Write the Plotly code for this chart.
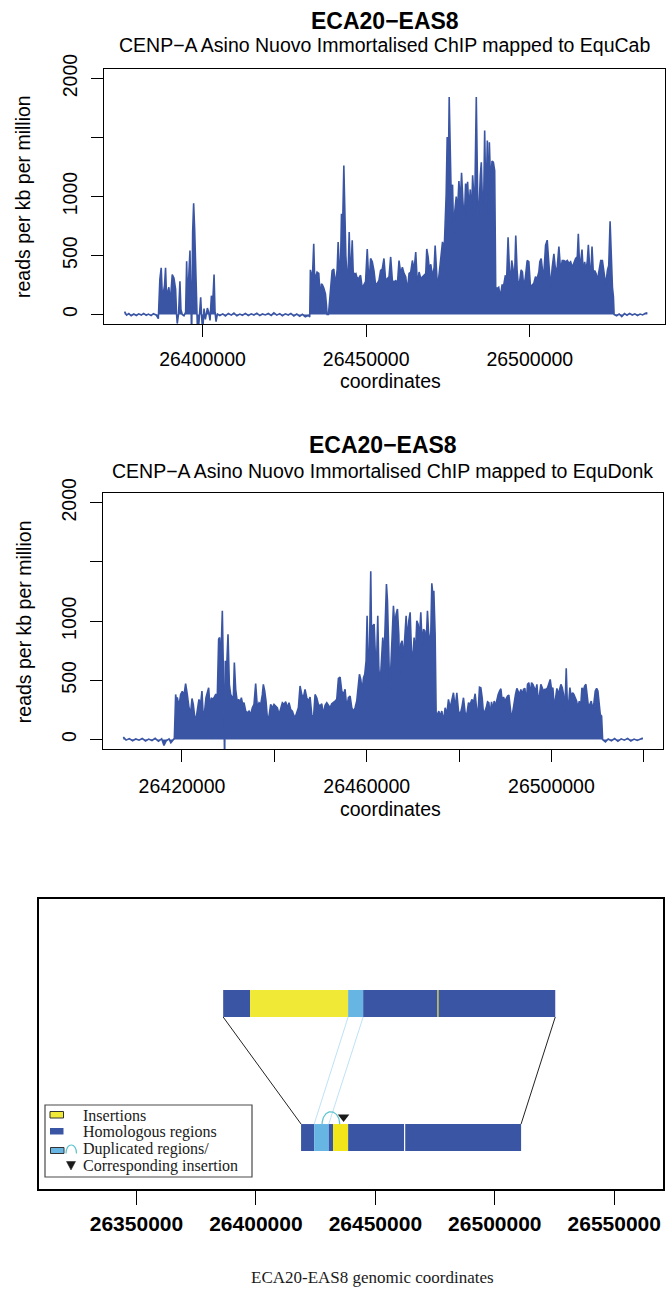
import numpy as np
import plotly.graph_objects as go

# ---------------------------------------------------------------------------
# CENP-A ChIP-seq signal (reads per kb per million) along ECA20-EAS8.
# Positions are genomic coordinates in kb.
# ---------------------------------------------------------------------------

# --- mapped to EquCab ---
cab_flank_l_kb = [26376.2, 26376.8, 26377.5, 26378.2, 26379.0, 26379.8, 26380.5, 26381.3,
                  26382.0, 26382.8, 26383.5, 26384.3, 26385.0, 26385.8, 26386.5]
cab_flank_l_val = [25, -5, 8, -10, 5, -8, 6, -4, 10, -6, 4, -9, 7, -3, -35]

cab_cluster_kb = [26386.97, 26387.38, 26387.69, 26387.99, 26388.40, 26388.71, 26389.01, 26389.42, 26389.73, 26390.14,
                  26390.55, 26390.75, 26391.26, 26391.77, 26392.08, 26392.28, 26392.69, 26393.10, 26393.41, 26393.82,
                  26394.33, 26394.84, 26395.15, 26395.45, 26395.76, 26396.17, 26396.47, 26396.68, 26396.99, 26397.29,
                  26397.60, 26397.91, 26398.21, 26398.52, 26398.93, 26399.44, 26399.74, 26400.05, 26400.46, 26400.87,
                  26401.48, 26401.89, 26402.30, 26402.71, 26403.12, 26403.53, 26403.83, 26404.14, 26404.55]
cab_cluster_val = [300, 396, 180, 175, 250, 396, 150, 200, 231, 100,
                   280, 339, 310, 215, 0, -76, 10, 282, 40, 0,
                   -10, 20, 452, 100, 300, 542, 100, -200, 700, 943,
                   720, 430, 50, -200, -60, 147, -20, -150, 50, -40,
                   55, 20, -50, 160, 100, 339, 20, -60, 5]

cab_gap_kb = [26405.3, 26406.2, 26407.0, 26407.9, 26408.8, 26409.6, 26410.5, 26411.4, 26412.2, 26413.1,
              26414.0, 26414.9, 26415.7, 26416.6, 26417.5, 26418.3, 26419.2, 26420.1, 26421.0, 26421.8,
              26422.7, 26423.6, 26424.4, 26425.3, 26426.2, 26427.0, 26427.9, 26428.8, 26429.7, 26430.5,
              26431.4, 26432.3, 26432.76]
cab_gap_val = [-8, 6, -12, 9, -5, 12, -10, 4, -6, 10,
               -8, 6, -4, 12, -9, 5, -3, 9, -7, 14,
               -5, 8, -10, 6, -4, 10, -12, 4, -15, 2,
               -20, -8, -20]

cab_core_kb = [26432.96, 26433.27, 26433.57, 26433.98, 26434.29, 26434.60, 26435.00, 26435.52, 26435.82, 26436.03,
               26436.33, 26436.64, 26437.05, 26437.56, 26437.87, 26438.07, 26438.48, 26438.79, 26439.09, 26439.60,
               26440.11, 26440.62, 26441.14, 26441.44, 26441.85, 26442.16, 26442.46, 26442.87, 26443.18, 26443.49,
               26443.79, 26444.10, 26444.51, 26444.82, 26445.12, 26445.43, 26445.74, 26446.04, 26446.45, 26446.86,
               26447.27, 26447.78, 26448.29, 26448.80, 26449.31, 26449.82, 26450.33, 26450.85, 26451.36, 26451.87,
               26452.38, 26452.89, 26453.40, 26453.91, 26454.42, 26454.93, 26455.44, 26455.95, 26456.47, 26456.98,
               26457.49, 26458.00, 26458.51, 26459.02, 26459.53, 26460.04, 26460.55, 26461.06, 26461.57, 26462.08,
               26462.60, 26463.11, 26463.62, 26464.13, 26464.64, 26465.15, 26465.66, 26466.17, 26466.68, 26467.19,
               26467.70, 26468.21, 26468.52, 26468.93, 26469.34, 26469.75, 26470.26, 26470.77, 26471.08, 26471.49,
               26471.80, 26472.31, 26472.82, 26473.33, 26473.84, 26474.15, 26474.45, 26474.76, 26475.07, 26475.37,
               26475.68, 26475.99, 26476.40, 26476.70, 26477.11, 26477.52, 26477.93, 26478.34, 26478.75, 26479.15,
               26479.56, 26479.97, 26480.38, 26480.69, 26481.00, 26481.40, 26481.81, 26482.22, 26482.53, 26482.83,
               26483.24, 26483.65]
cab_core_val = [379, 340, 300, 599, 280, 322, 360, 348, 200, 120,
                260, 250, 225, 175, 80, 0, 0, 100, 180, 373,
                386, 250, 380, 615, 360, 400, 853, 825, 1263, 785,
                500, 348, 373, 700, 380, 420, 630, 360, 340, 348,
                305, 310, 333, 225, 250, 280, 556, 250, 475, 447,
                373, 250, 265, 290, 373, 386, 475, 290, 305, 320,
                488, 290, 270, 290, 250, 458, 348, 400, 348, 320,
                200, 348, 360, 458, 373, 530, 250, 360, 305, 320,
                333, 348, 556, 488, 373, 426, 320, 400, 585, 320,
                225, 348, 488, 615, 545, 780, 1020, 1503, 1130, 1842,
                1330, 990, 1100, 690, 885, 1000, 880, 1130, 940, 1200,
                960, 780, 1110, 1040, 1125, 880, 1060, 830, 1180, 1040,
                1060, 1842]

cab_tail_kb = [26484.16, 26484.47, 26484.88, 26485.18, 26485.49, 26485.90, 26486.21, 26486.61, 26487.02, 26487.33,
               26487.64, 26488.04, 26488.45, 26488.86, 26489.27, 26489.58, 26489.99, 26490.50, 26491.01, 26491.52,
               26492.03, 26492.54, 26492.85, 26493.36, 26493.77, 26494.08, 26494.48, 26494.89, 26495.30, 26495.71,
               26496.12, 26496.53, 26496.94, 26497.35, 26497.75, 26498.16, 26498.67, 26499.19, 26499.70, 26500.21,
               26500.72, 26501.23, 26501.74, 26502.25, 26502.76, 26503.07, 26503.48, 26503.89, 26504.30, 26504.81,
               26505.32, 26505.83, 26506.34, 26506.85, 26507.36, 26507.87, 26508.38, 26508.89, 26509.41, 26509.92,
               26510.43, 26510.94, 26511.45, 26511.96, 26512.47, 26512.98, 26513.49, 26514.00, 26514.51, 26514.82,
               26515.23, 26515.54, 26515.95, 26516.35, 26516.76, 26517.17, 26517.58, 26517.89, 26518.30, 26518.71,
               26519.01, 26519.42, 26519.83, 26520.24, 26520.65, 26521.16, 26521.67, 26522.18, 26522.69, 26523.20,
               26523.71, 26524.12, 26524.53, 26524.94, 26525.25, 26525.55, 26525.76]
cab_tail_val = [820, 870, 1180, 1290, 1000, 940, 1560, 920, 1475, 850,
                1460, 1100, 1300, 1290, 1220, 231, 220, 231, 150, 250,
                250, 333, 240, 655, 386, 250, 458, 386, 270, 670,
                373, 231, 290, 379, 360, 231, 320, 458, 447, 231,
                250, 265, 320, 305, 360, 447, 475, 373, 348, 585,
                630, 373, 231, 400, 515, 373, 400, 577, 373, 458,
                458, 447, 458, 433, 447, 400, 447, 475, 488, 685,
                400, 447, 550, 348, 447, 373, 458, 590, 400, 373,
                577, 348, 373, 348, 290, 373, 458, 458, 348, 250,
                373, 415, 790, 433, 231, 150, 0]

cab_flank_r_kb = [26526.5, 26527.3, 26528.1, 26528.9, 26529.7, 26530.5, 26531.3, 26532.1,
                  26532.9, 26533.7, 26534.5, 26535.3, 26535.9]
cab_flank_r_val = [-10, 5, -18, 8, -6, 10, -4, 6, -8, 4, -3, 12, 15]

# --- mapped to EquDonk ---
donk_flank_l_kb = [26407.3, 26407.9, 26408.6, 26409.3, 26410.0, 26410.7, 26411.4, 26412.1, 26412.8,
                   26413.5, 26414.2, 26414.9, 26415.6, 26416.1, 26416.6, 26417.2, 26417.6, 26418.1]
donk_flank_l_val = [22, -5, 8, -10, 5, -6, 9, -12, 4, -8, 10, -15, 6, -50, -10, 5, -28, -5]

donk_head_kb = [26418.35, 26418.63, 26418.84, 26418.99, 26419.35, 26419.71, 26420.07, 26420.43, 26420.79, 26421.15,
                26421.52, 26421.88, 26422.17, 26422.45, 26422.74, 26423.03, 26423.32, 26423.68, 26424.04, 26424.33,
                26424.62, 26424.91, 26425.20, 26425.49, 26425.78, 26426.07, 26426.36, 26426.64, 26426.93, 26427.29,
                26427.66, 26427.94, 26428.16, 26428.38, 26428.59, 26428.74, 26428.95, 26429.10, 26429.24, 26429.39,
                26429.68, 26429.97, 26430.26, 26430.54, 26430.83, 26431.12, 26431.34, 26431.63, 26431.99, 26432.28,
                26432.57, 26432.86, 26433.15, 26433.43, 26433.80, 26434.16, 26434.52, 26434.88, 26435.24, 26435.60,
                26435.96, 26436.33, 26436.69, 26437.05, 26437.41, 26437.62, 26437.91, 26438.20, 26438.49, 26438.85,
                26439.21, 26439.57, 26439.93, 26440.29, 26440.66, 26441.02, 26441.38, 26441.74, 26442.10, 26442.46,
                26442.82, 26443.18, 26443.54, 26443.91]
donk_head_val = [10, 381, 320, 356, 280, 381, 407, 370, 472, 381,
                 268, 225, 347, 297, 198, 170, 240, 339, 297, 410,
                 184, 240, 353, 395, 438, 268, 353, 339, 353, 381,
                 381, 847, 862, 610, 890, 1087, 610, -200, -200, 665,
                 610, 890, 466, 381, 353, 339, 650, 424, 311, 339,
                 311, 353, 297, 311, 240, 226, 240, 212, 268, 297,
                 472, 268, 311, 297, 381, 466, 410, 325, 184, 198,
                 297, 268, 297, 283, 268, 212, 268, 311, 297, 320,
                 268, 311, 254, 240]

donk_core_kb = [26444.13, 26444.49, 26444.85, 26445.21, 26445.57, 26445.93, 26446.29, 26446.65, 26447.02, 26447.38,
                26447.74, 26448.10, 26448.46, 26448.82, 26449.18, 26449.54, 26449.90, 26450.27, 26450.63, 26450.99,
                26451.35, 26451.71, 26452.07, 26452.43, 26452.79, 26453.16, 26453.52, 26453.88, 26454.24, 26454.60,
                26454.96, 26455.32, 26455.68, 26456.04, 26456.41, 26456.77, 26457.13, 26457.49, 26457.85, 26458.21,
                26458.43, 26458.72, 26459.01, 26459.31, 26459.58, 26459.87, 26460.09, 26460.31, 26460.60, 26460.88,
                26461.10, 26461.32, 26461.61, 26461.90, 26462.18, 26462.40, 26462.62, 26462.91, 26463.20, 26463.48,
                26463.77, 26463.99, 26464.28, 26464.50, 26464.78, 26465.00, 26465.22, 26465.51, 26465.79, 26466.08,
                26466.37, 26466.66, 26466.95, 26467.17, 26467.38, 26467.67, 26467.96, 26468.25, 26468.54, 26468.82,
                26469.12, 26469.41, 26469.70, 26469.98, 26470.27, 26470.56, 26470.85, 26471.14, 26471.43, 26471.72,
                26472.01, 26472.30, 26472.58, 26472.87, 26473.16, 26473.38, 26473.67, 26473.89, 26474.10, 26474.32,
                26474.54, 26474.82, 26475.04, 26475.33, 26475.62, 26475.91, 26476.27, 26476.63, 26476.99, 26477.35,
                26477.71, 26478.07, 26478.43, 26478.79, 26479.16, 26479.52, 26479.88, 26480.24, 26480.60, 26480.96,
                26481.32, 26481.69, 26482.05, 26482.41, 26482.77, 26483.13, 26483.49, 26483.85]
donk_core_val = [212, 184, 226, 268, 452, 381, 353, 424, 353, 325,
                 359, 212, 170, 381, 353, 297, 283, 302, 212, 290,
                 311, 283, 268, 302, 311, 325, 339, 517, 528, 410,
                 381, 424, 268, 353, 367, 268, 240, 268, 325, 438,
                 551, 508, 410, 523, 551, 664, 1045, 664, 749, 1421,
                 720, 960, 975, 692, 706, 1045, 607, 466, 664, 862,
                 692, 904, 1314, 1172, 749, 395, 607, 890, 1130, 960,
                 1060, 1102, 890, 523, 805, 833, 692, 862, 1045, 833,
                 1003, 1074, 749, 678, 862, 720, 1003, 975, 862, 1074,
                 791, 932, 918, 805, 1088, 918, 791, 904, 1319, 1229,
                 1257, 890, 226, 212, 240, 198, 240, 155, 268, 212,
                 339, 268, 325, 395, 268, 395, 240, 212, 268, 353,
                 226, 212, 311, 297, 339, 311, 387, 240]

donk_tail_kb = [26484.14, 26484.43, 26484.72, 26485.01, 26485.30, 26485.59, 26485.88, 26486.17, 26486.45, 26486.74,
                26487.03, 26487.32, 26487.61, 26487.90, 26488.19, 26488.48, 26488.77, 26489.06, 26489.34, 26489.63,
                26489.92, 26490.21, 26490.50, 26490.79, 26491.08, 26491.37, 26491.66, 26491.94, 26492.23, 26492.52,
                26492.81, 26493.10, 26493.39, 26493.68, 26493.97, 26494.26, 26494.54, 26494.83, 26495.12, 26495.41,
                26495.70, 26495.99, 26496.28, 26496.57, 26496.86, 26497.14, 26497.43, 26497.72, 26498.01, 26498.30,
                26498.59, 26498.88, 26499.17, 26499.46, 26499.74, 26500.03, 26500.32, 26500.61, 26500.90, 26501.19,
                26501.48, 26501.77, 26502.06, 26502.35, 26502.63, 26502.92, 26503.21, 26503.43, 26503.72, 26504.01,
                26504.30, 26504.58, 26504.87, 26505.16, 26505.45, 26505.74, 26506.03, 26506.32, 26506.61, 26506.90,
                26507.19, 26507.47, 26507.76, 26508.05, 26508.34, 26508.63, 26508.92, 26509.21, 26509.50, 26509.79,
                26510.07, 26510.36, 26510.58, 26510.87, 26511.09]
donk_tail_val = [250, 443, 438, 353, 212, 240, 268, 319, 311, 212,
                 319, 254, 325, 283, 339, 381, 410, 429, 325, 359,
                 325, 347, 367, 376, 268, 170, 240, 325, 381, 432,
                 410, 381, 424, 381, 424, 432, 311, 466, 480, 381,
                 480, 466, 438, 410, 466, 325, 381, 466, 438, 410,
                 424, 424, 438, 466, 508, 424, 438, 268, 353, 432,
                 381, 424, 466, 438, 381, 240, 602, 325, 297, 438,
                 353, 395, 381, 353, 325, 268, 325, 268, 438, 410,
                 452, 466, 381, 268, 297, 325, 254, 311, 410, 432,
                 410, 268, 212, 198, 0]

donk_flank_r_kb = [26511.7, 26512.3, 26513.0, 26513.7, 26514.4, 26515.1, 26515.8, 26516.5,
                   26517.2, 26517.9, 26518.6, 26519.3, 26519.8]
donk_flank_r_val = [-20, 5, -10, 8, -15, 6, -5, 10, -12, 4, -8, 6, 12]

# --- axis ticks ---
cab_xticks = [26400000, 26450000, 26500000]
donk_xticks = [26420000, 26440000, 26460000, 26480000, 26500000, 26520000]
donk_xlabels = ["26420000", "", "26460000", "", "26500000", ""]
y_ticks = [0, 500, 1000, 1500, 2000]
y_labels = ["0", "500", "1000", "", "2000"]
map_xticks = [26350000, 26400000, 26450000, 26500000, 26550000]

# --- homology map: segments in kb (start, end, kind) ---
equcab_seg_start = [26386.3, 26397.55, 26438.6, 26444.9, 26476.1, 26476.45]
equcab_seg_end = [26397.55, 26438.6, 26444.9, 26476.1, 26476.45, 26525.3]
equcab_seg_kind = ["hom", "ins", "dup", "hom", "ins", "hom"]

equdonk_seg_start = [26418.9, 26424.4, 26430.5, 26432.3, 26438.6, 26462.5]
equdonk_seg_end = [26424.4, 26430.5, 26432.3, 26438.6, 26462.0, 26511.0]
equdonk_seg_kind = ["hom", "dup", "hom", "ins", "hom", "hom"]

# arc joining the duplicated copy to the insertion, and the insertion mark (kb)
dup_arc_kb = [26427.7, 26435.1]
insertion_mark_kb = 26436.7

# ---------------------------------------------------------------------------
W, H = 666, 1295
BLUE = "#3A55A4"
YELLOW = "#F0E936"
YELLOW_B = "#F2E51A"
LIGHTBLUE = "#66B5E3"
CYAN = "#5EC3CF"
SANS = "Liberation Sans, Arial, Helvetica, sans-serif"
SERIF = "Liberation Serif, Times New Roman, serif"


def px(x):
    return x / W


def py(y):
    return 1 - y / H


def join(*parts):
    out = []
    for p in parts:
        out.extend(p)
    return out


cab_x = np.array(join(cab_flank_l_kb, cab_cluster_kb, cab_gap_kb, cab_core_kb,
                      cab_tail_kb, cab_flank_r_kb)) * 1000
cab_y = np.array(join(cab_flank_l_val, cab_cluster_val, cab_gap_val, cab_core_val,
                      cab_tail_val, cab_flank_r_val))
donk_x = np.array(join(donk_flank_l_kb, donk_head_kb, donk_core_kb, donk_tail_kb,
                       donk_flank_r_kb)) * 1000
donk_y = np.array(join(donk_flank_l_val, donk_head_val, donk_core_val, donk_tail_val,
                       donk_flank_r_val))

fig = go.Figure()

for xs, ys, xa, ya in [(cab_x, cab_y, "x", "y"), (donk_x, donk_y, "x2", "y2")]:
    fig.add_trace(go.Scatter(
        x=xs, y=ys, xaxis=xa, yaxis=ya, mode="lines",
        line=dict(color=BLUE, width=1.6), fill="tozeroy", fillcolor=BLUE,
        hoverinfo="skip", showlegend=False))

# homology map tracks
TOP_Y, BOT_Y, BAR_H = 0.6395, 0.1775, 0.093
kind_color_top = {"hom": BLUE, "ins": YELLOW, "dup": LIGHTBLUE}
kind_color_bot = {"hom": BLUE, "ins": YELLOW_B, "dup": LIGHTBLUE}

for starts, ends, kinds, yc, cmap in [
        (equcab_seg_start, equcab_seg_end, equcab_seg_kind, TOP_Y, kind_color_top),
        (equdonk_seg_start, equdonk_seg_end, equdonk_seg_kind, BOT_Y, kind_color_bot)]:
    s = np.array(starts) * 1000
    e = np.array(ends) * 1000
    fig.add_trace(go.Bar(
        orientation="h", base=s, x=e - s, y=[yc] * len(s), width=BAR_H,
        marker=dict(color=[cmap[k] for k in kinds], line=dict(width=0)),
        xaxis="x3", yaxis="y3", hoverinfo="skip", showlegend=False))

top_lo = TOP_Y - BAR_H / 2
bot_hi = BOT_Y + BAR_H / 2

# outer connectors between the two tracks
for xa, xb in [(equcab_seg_start[0], equdonk_seg_start[0]),
               (equcab_seg_end[-1], equdonk_seg_end[-1])]:
    fig.add_trace(go.Scatter(
        x=[xa * 1000, xb * 1000], y=[top_lo, bot_hi], mode="lines",
        line=dict(color="#222222", width=1), xaxis="x3", yaxis="y3",
        hoverinfo="skip", showlegend=False))

# connectors between the duplicated copies
i_top = equcab_seg_kind.index("dup")
i_bot = equdonk_seg_kind.index("dup")
for xa, xb in [(equcab_seg_start[i_top], equdonk_seg_start[i_bot]),
               (equcab_seg_end[i_top], equdonk_seg_end[i_bot])]:
    fig.add_trace(go.Scatter(
        x=[xa * 1000, xb * 1000], y=[top_lo, bot_hi], mode="lines",
        line=dict(color="#BFE2F6", width=1), xaxis="x3", yaxis="y3",
        hoverinfo="skip", showlegend=False))

# arc over the duplicated region
t = np.linspace(0, np.pi, 60)
cx = (dup_arc_kb[0] + dup_arc_kb[1]) / 2 * 1000
rx = (dup_arc_kb[1] - dup_arc_kb[0]) / 2 * 1000
fig.add_trace(go.Scatter(
    x=cx + rx * np.cos(t), y=bot_hi + 0.0426 * np.sin(t), mode="lines",
    line=dict(color=CYAN, width=1.2), xaxis="x3", yaxis="y3",
    hoverinfo="skip", showlegend=False))

fig.add_trace(go.Scatter(
    x=[insertion_mark_kb * 1000], y=[bot_hi + 0.024], mode="markers",
    marker=dict(symbol="triangle-down", size=10, color="#1a1a1a"),
    xaxis="x3", yaxis="y3", hoverinfo="skip", showlegend=False))

# ---------------------------------------------------------------------------
axis_common = dict(showline=True, mirror=True, linecolor="black", linewidth=1.3,
                   ticks="outside", ticklen=12, tickwidth=1, tickcolor="black",
                   showgrid=False, zeroline=False, automargin=False,
                   tickfont=dict(family=SANS, size=19.5, color="black"))

fig.update_layout(
    template="none",
    width=W, height=H, margin=dict(l=0, r=0, t=0, b=0, pad=0, autoexpand=False),
    paper_bgcolor="white", plot_bgcolor="white", barmode="overlay",
    showlegend=False,
    xaxis=dict(axis_common, domain=[px(104), px(665.3)], anchor="y",
               range=[26369900, 26541400], tickvals=cab_xticks,
               ticktext=[str(v) for v in cab_xticks], ticklabelstandoff=5),
    yaxis=dict(axis_common, domain=[py(324), py(69)], anchor="x",
               range=[-80, 2080], tickvals=y_ticks, ticktext=y_labels,
               tickangle=-90, ticklabelstandoff=6),
    xaxis2=dict(axis_common, domain=[px(103), px(662.7)], anchor="y2",
                range=[26402900, 26524100], tickvals=donk_xticks,
                ticktext=donk_xlabels, ticklabelstandoff=7),
    yaxis2=dict(axis_common, domain=[py(749), py(493.3)], anchor="x2",
                range=[-80, 2080], tickvals=y_ticks, ticktext=y_labels,
                tickangle=-90, ticklabelstandoff=6),
    xaxis3=dict(axis_common, domain=[px(38.5), px(663)], anchor="y3",
                range=[26309000, 26570400], tickvals=map_xticks,
                ticktext=[str(v) for v in map_xticks], linewidth=2, ticklen=14,
                tickfont=dict(family=SANS, size=21, color="black", weight="bold"),
                ticklabelstandoff=1),
    yaxis3=dict(domain=[py(1189), py(899)], anchor="x3", range=[0, 1],
                showline=True, mirror=True, linecolor="black", linewidth=2,
                ticks="", showticklabels=False, showgrid=False, zeroline=False,
                automargin=False),
)

annotations = []


def text(x, y, s, size, family=SANS, angle=0, xanchor="center", color="black"):
    annotations.append(dict(x=px(x), y=py(y), xref="paper", yref="paper", text=s,
                            showarrow=False, textangle=angle, xanchor=xanchor,
                            yanchor="middle",
                            font=dict(family=family, size=size, color=color)))


text(384.7, 20.5, "<b>ECA20\u2212EAS8</b>", 23)
text(384.7, 45, "CENP\u2212A Asino Nuovo Immortalised ChIP mapped to EquCab", 19.5)
text(390, 381, "coordinates", 19.5)
text(23.5, 196.5, "reads per kb per million", 19.5, angle=-90)

text(382.9, 445, "<b>ECA20\u2212EAS8</b>", 23)
text(382.9, 470.7, "CENP\u2212A Asino Nuovo Immortalised ChIP mapped to EquDonk", 19.5)
text(390, 809, "coordinates", 19.5)
text(23.5, 621.7, "reads per kb per million", 19.5, angle=-90)

text(372.6, 1277, "ECA20-EAS8 genomic coordinates", 17, family=SERIF, color="#1a1a1a")

# legend of the homology map
for yy, s in [(1115, "Insertions"), (1131.7, "Homologous regions"),
              (1148.5, "Duplicated regions/"), (1166, "Corresponding insertion")]:
    text(80.5, yy, s, 16, family=SERIF, xanchor="left", color="#1a1a1a")

fig.update_layout(annotations=annotations)


def rect(x0, y0, x1, y1, fill, line_color=None, lw=0):
    return dict(type="rect", xref="paper", yref="paper",
                x0=px(x0), x1=px(x1), y0=py(y1), y1=py(y0),
                fillcolor=fill, line=dict(color=line_color or fill, width=lw),
                layer="above")


shapes = [
    rect(45, 1105, 252, 1177, "white", "#4a4a4a", 1.2),
    rect(50, 1111.5, 63.5, 1118, YELLOW, "#333333", 1),
    rect(50, 1128, 63.5, 1134.5, BLUE),
    rect(50.5, 1147.5, 64, 1153.5, LIGHTBLUE, "#333333", 1),
    dict(type="path", xref="paper", yref="paper", layer="above",
         path=f"M {px(66)},{py(1153.5)} C {px(66)},{py(1142.2)} {px(76.5)},{py(1142.2)} {px(76.5)},{py(1153.5)}",
         line=dict(color=CYAN, width=1.2)),
    dict(type="path", xref="paper", yref="paper", layer="above",
         path=f"M {px(66.5)},{py(1161.5)} L {px(75.5)},{py(1161.5)} L {px(71)},{py(1170)} Z",
         fillcolor="#1a1a1a", line=dict(color="#1a1a1a", width=0.5)),
]
fig.update_layout(shapes=shapes)

fig.write_html("out.html")
